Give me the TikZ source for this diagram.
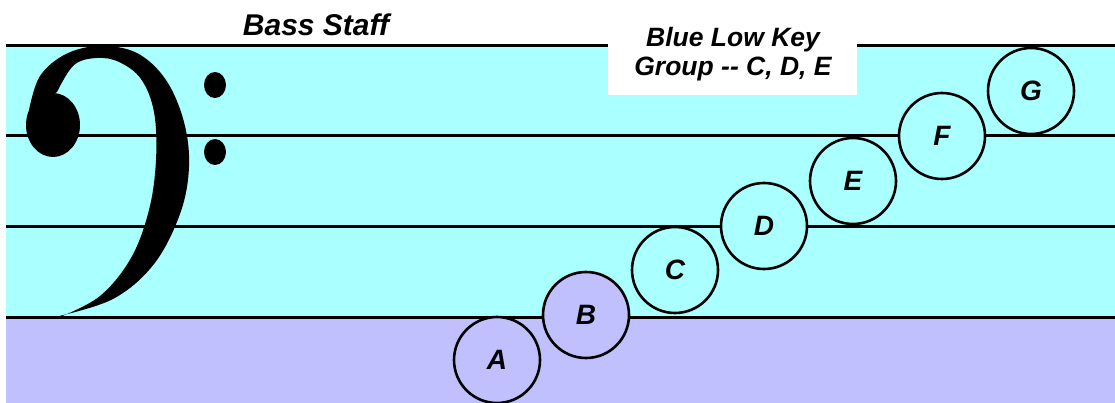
\documentclass[tikz,border=0pt]{standalone}
\usepackage{fontspec}
\setmainfont{Liberation Sans}
\definecolor{staffcyan}{HTML}{AAFFFF}
\definecolor{lowpurple}{HTML}{C0C0FF}
\tikzset{
  staffline/.style={line width=3pt, black},
  note/.style={circle, draw=black, line width=2.6pt, minimum size=86pt, inner sep=0pt,
    font=\fontsize{28}{32}\selectfont\bfseries\itshape},
  lbl/.style={font=\fontsize{26.5}{29}\selectfont\bfseries\itshape, align=center},
}
\begin{document}
\begin{tikzpicture}[x=1pt,y=-1pt]
\useasboundingbox (0,0) rectangle (1115,403);
\fill[white] (0,0) rectangle (1115,403);
% backgrounds
\fill[staffcyan] (6,46) rectangle (1115,317);
\fill[lowpurple] (6,317) rectangle (1115,403);
% staff lines
\draw[staffline] (6,46) -- (608,46);
\draw[staffline] (857,46) -- (1115,46);
\draw[staffline] (6,136) -- (1115,136);
\draw[staffline] (6,227) -- (1115,227);
\draw[staffline] (6,317) -- (1115,317);
% label box
\node[fill=white, minimum width=249pt, minimum height=76pt, inner sep=0pt] (box) at (732.5,57) {};
\node[lbl] (boxtext) at (733,54) {Blue Low Key\\Group -{}- C, D, E};
\node[lbl, font=\fontsize{30}{34}\selectfont\bfseries\itshape] (title) at (316,25) {Bass Staff};
% bass clef
\fill[black] plot[smooth, tension=0.6] coordinates {(29,110) (40,76) (66,54) (100,46) (137,53) (166,80) (184,122) (189,167) (180,214) (154,264) (113,299) (55,317)}
  -- plot[smooth, tension=0.6] coordinates {(60,317) (100,296) (131,258) (149,210) (156,160) (154,112) (141,79) (119,62) (97,58) (74,65) (57,92)} -- cycle;
\fill[black] (53,125) ellipse [x radius=27, y radius=32];
\fill[black] (215,85) ellipse [x radius=11, y radius=13];
\fill[black] (215,152) ellipse [x radius=11, y radius=13];
% notes
\node[note, fill=lowpurple] (A) at (497,360) {A};
\node[note, fill=lowpurple] (B) at (586,315) {B};
\node[note, fill=staffcyan] (C) at (675,270) {C};
\node[note, fill=staffcyan] (D) at (764,226) {D};
\node[note, fill=staffcyan] (E) at (853,181) {E};
\node[note, fill=staffcyan] (F) at (942,136) {F};
\node[note, fill=staffcyan] (G) at (1031,91) {G};
\end{tikzpicture}
\end{document}
